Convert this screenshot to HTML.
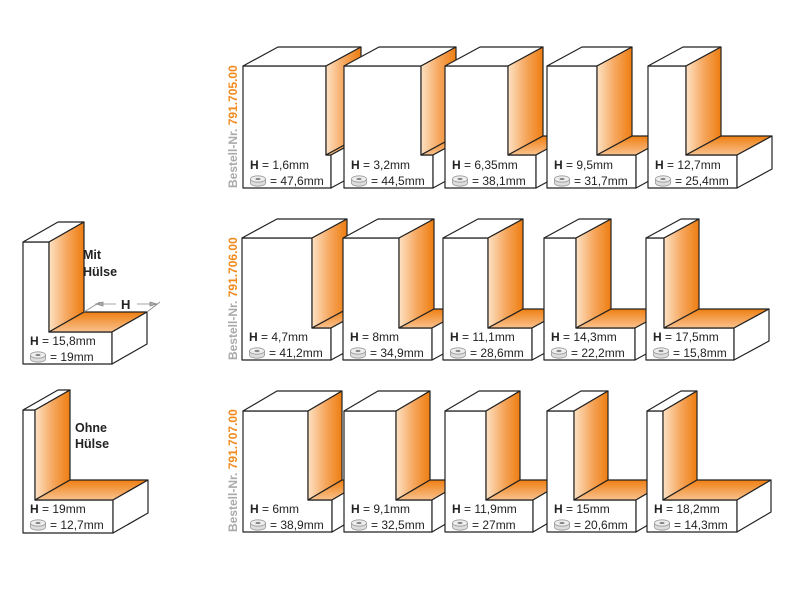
<!DOCTYPE html>
<html><head><meta charset="utf-8"><style>
html,body{margin:0;padding:0;background:#fff;}
svg{display:block;}
text{font-family:"Liberation Sans",sans-serif;font-size:12px;fill:#222;}
.f{fill:#fff;stroke:#222;stroke-width:1.2;stroke-linejoin:round;}
.v{fill:url(#gv);stroke:#222;stroke-width:1.2;stroke-linejoin:round;}
.fl{fill:url(#gf);stroke:#222;stroke-width:1.2;stroke-linejoin:round;}
.b{font-weight:bold;}
</style></head><body>
<svg width="800" height="600" viewBox="0 0 800 600" xmlns="http://www.w3.org/2000/svg">
<defs>
<linearGradient id="gv" x1="0" y1="0" x2="1" y2="0"><stop offset="0" stop-color="#fde2c4"/><stop offset="0.5" stop-color="#f6a860"/><stop offset="1" stop-color="#ee7d10"/></linearGradient>
<linearGradient id="gf" x1="0" y1="0" x2="0" y2="1"><stop offset="0" stop-color="#ef7f12"/><stop offset="1" stop-color="#f9c28e"/></linearGradient>
<g id="brg"><ellipse cx="0" cy="3" rx="7.5" ry="3.2" fill="#ddd" stroke="#999" stroke-width="0.8"/><rect x="-7.5" y="-1" width="15" height="4" fill="#ddd"/><line x1="-7.5" y1="-1" x2="-7.5" y2="3" stroke="#999" stroke-width="0.8"/><line x1="7.5" y1="-1" x2="7.5" y2="3" stroke="#999" stroke-width="0.8"/><ellipse cx="0" cy="-1" rx="7.5" ry="3.2" fill="#eee" stroke="#999" stroke-width="0.8"/><ellipse cx="0" cy="-1" rx="2.5" ry="1.1" fill="#888"/></g>
</defs>

<!-- Row 1 -->
<g>
<polygon class="f" points="243,66 326,66 326,155 331,155 331,188 243,188"/><polygon class="f" points="243,66 278,47 361,47 326,66"/><polygon class="v" points="326,66 361,47 361,136 326,155"/><polygon class="fl" points="326,155 361,136 366,136 331,155"/><polygon class="f" points="331,155 366,136 366,169 331,188"/>
<polygon class="f" points="344,66 421,66 421,155 433,155 433,188 344,188"/><polygon class="f" points="344,66 379,47 456,47 421,66"/><polygon class="v" points="421,66 456,47 456,136 421,155"/><polygon class="fl" points="421,155 456,136 468,136 433,155"/><polygon class="f" points="433,155 468,136 468,169 433,188"/>
<polygon class="f" points="445,66 508,66 508,155 536,155 536,188 445,188"/><polygon class="f" points="445,66 480,47 543,47 508,66"/><polygon class="v" points="508,66 543,47 543,136 508,155"/><polygon class="fl" points="508,155 543,136 571,136 536,155"/><polygon class="f" points="536,155 571,136 571,169 536,188"/>
<polygon class="f" points="547,66 597,66 597,155 636,155 636,188 547,188"/><polygon class="f" points="547,66 582,47 632,47 597,66"/><polygon class="v" points="597,66 632,47 632,136 597,155"/><polygon class="fl" points="597,155 632,136 671,136 636,155"/><polygon class="f" points="636,155 671,136 671,169 636,188"/>
<polygon class="f" points="648,66 686,66 686,155 737,155 737,188 648,188"/><polygon class="f" points="648,66 683,47 721,47 686,66"/><polygon class="v" points="686,66 721,47 721,136 686,155"/><polygon class="fl" points="686,155 721,136 772,136 737,155"/><polygon class="f" points="737,155 772,136 772,169 737,188"/>
</g>
<!-- Row 2 -->
<g>
<polygon class="f" points="242,238 312,238 312,328 331,328 331,360 242,360"/><polygon class="f" points="242,238 277,219 347,219 312,238"/><polygon class="v" points="312,238 347,219 347,309 312,328"/><polygon class="fl" points="312,328 347,309 366,309 331,328"/><polygon class="f" points="331,328 366,309 366,341 331,360"/>
<polygon class="f" points="343,238 399,238 399,328 432,328 432,360 343,360"/><polygon class="f" points="343,238 378,219 434,219 399,238"/><polygon class="v" points="399,238 434,219 434,309 399,328"/><polygon class="fl" points="399,328 434,309 467,309 432,328"/><polygon class="f" points="432,328 467,309 467,341 432,360"/>
<polygon class="f" points="443,238 488,238 488,328 532,328 532,360 443,360"/><polygon class="f" points="443,238 478,219 523,219 488,238"/><polygon class="v" points="488,238 523,219 523,309 488,328"/><polygon class="fl" points="488,328 523,309 567,309 532,328"/><polygon class="f" points="532,328 567,309 567,341 532,360"/>
<polygon class="f" points="544,238 576,238 576,328 635,328 635,360 544,360"/><polygon class="f" points="544,238 579,219 611,219 576,238"/><polygon class="v" points="576,238 611,219 611,309 576,328"/><polygon class="fl" points="576,328 611,309 670,309 635,328"/><polygon class="f" points="635,328 670,309 670,341 635,360"/>
<polygon class="f" points="646,238 664,238 664,328 734,328 734,360 646,360"/><polygon class="f" points="646,238 681,219 699,219 664,238"/><polygon class="v" points="664,238 699,219 699,309 664,328"/><polygon class="fl" points="664,328 699,309 769,309 734,328"/><polygon class="f" points="734,328 769,309 769,341 734,360"/>
</g>
<!-- Row 3 -->
<g>
<polygon class="f" points="243,411 308,411 308,500 332,500 332,532 243,532"/><polygon class="f" points="243,411 277,391 342,391 308,411"/><polygon class="v" points="308,411 342,391 342,480 308,500"/><polygon class="fl" points="308,500 342,480 366,480 332,500"/><polygon class="f" points="332,500 366,480 366,512 332,532"/>
<polygon class="f" points="344,411 396,411 396,500 432,500 432,532 344,532"/><polygon class="f" points="344,411 378,391 430,391 396,411"/><polygon class="v" points="396,411 430,391 430,480 396,500"/><polygon class="fl" points="396,500 430,480 466,480 432,500"/><polygon class="f" points="432,500 466,480 466,512 432,532"/>
<polygon class="f" points="445,411 486,411 486,500 533,500 533,532 445,532"/><polygon class="f" points="445,411 479,391 520,391 486,411"/><polygon class="v" points="486,411 520,391 520,480 486,500"/><polygon class="fl" points="486,500 520,480 567,480 533,500"/><polygon class="f" points="533,500 567,480 567,512 533,532"/>
<polygon class="f" points="547,411 574,411 574,500 636,500 636,532 547,532"/><polygon class="f" points="547,411 581,391 608,391 574,411"/><polygon class="v" points="574,411 608,391 608,480 574,500"/><polygon class="fl" points="574,500 608,480 670,480 636,500"/><polygon class="f" points="636,500 670,480 670,512 636,532"/>
<polygon class="f" points="647,411 663,411 663,500 737,500 737,532 647,532"/><polygon class="f" points="647,411 681,391 697,391 663,411"/><polygon class="v" points="663,411 697,391 697,480 663,500"/><polygon class="fl" points="663,500 697,480 771,480 737,500"/><polygon class="f" points="737,500 771,480 771,512 737,532"/>
</g>
<!-- Left: Mit Hülse -->
<polygon class="f" points="23,242 49,242 49,332 112,332 112,364 23,364"/><polygon class="f" points="23,242 58,222 84,222 49,242"/><polygon class="v" points="49,242 84,222 84,312 49,332"/><polygon class="fl" points="49,332 84,312 147,312 112,332"/><polygon class="f" points="112,332 147,312 147,344 112,364"/>
<!-- Left: Ohne Hülse -->
<polygon class="f" points="23,410 35,410 35,500 113,500 113,533 23,533"/><polygon class="f" points="23,410 58,390 70,390 35,410"/><polygon class="v" points="35,410 70,390 70,480 35,500"/><polygon class="fl" points="35,500 70,480 148,480 113,500"/><polygon class="f" points="113,500 148,480 148,513 113,533"/>

<text x="83" y="259" class="b" style="font-size:12.5px">Mit</text>
<text x="83" y="276" class="b" style="font-size:12.5px">Hülse</text>
<text x="75" y="432" class="b" style="font-size:12.5px">Ohne</text>
<text x="75" y="448" class="b" style="font-size:12.5px">Hülse</text>
<!-- dimension H -->
<g stroke="#888" stroke-width="0.8" fill="#aaa">
<line x1="84" y1="312" x2="100" y2="302"/><line x1="147" y1="312" x2="160" y2="302"/>
<line x1="96" y1="304" x2="116" y2="304"/><polygon points="96,304 103,302 103,306"/>
<line x1="137" y1="304" x2="157" y2="304"/><polygon points="157,304 150,302 150,306"/>
</g>
<text x="121" y="309" class="b" style="font-size:13px">H</text>

<!-- vertical labels -->
<text transform="translate(237,188) rotate(-90)" class="b" style="font-size:12px"><tspan fill="#aaa" style="fill:#aaa">Bestell-Nr. </tspan><tspan style="fill:#f08a1c">791.705.00</tspan></text>
<text transform="translate(237,360) rotate(-90)" class="b" style="font-size:12px"><tspan style="fill:#aaa">Bestell-Nr. </tspan><tspan style="fill:#f08a1c">791.706.00</tspan></text>
<text transform="translate(237,532) rotate(-90)" class="b" style="font-size:12px"><tspan style="fill:#aaa">Bestell-Nr. </tspan><tspan style="fill:#f08a1c">791.707.00</tspan></text>

<!-- labels row1 -->
<g>
<text x="250" y="169"><tspan class="b">H</tspan> = 1,6mm</text><use href="#brg" x="258" y="180"/><text x="270" y="185">= 47,6mm</text>
<text x="351" y="169"><tspan class="b">H</tspan> = 3,2mm</text><use href="#brg" x="359" y="180"/><text x="371" y="185">= 44,5mm</text>
<text x="452" y="169"><tspan class="b">H</tspan> = 6,35mm</text><use href="#brg" x="460" y="180"/><text x="472" y="185">= 38,1mm</text>
<text x="554" y="169"><tspan class="b">H</tspan> = 9,5mm</text><use href="#brg" x="562" y="180"/><text x="574" y="185">= 31,7mm</text>
<text x="655" y="169"><tspan class="b">H</tspan> = 12,7mm</text><use href="#brg" x="663" y="180"/><text x="675" y="185">= 25,4mm</text>
</g>
<g>
<text x="249" y="341"><tspan class="b">H</tspan> = 4,7mm</text><use href="#brg" x="257" y="352"/><text x="269" y="357">= 41,2mm</text>
<text x="350" y="341"><tspan class="b">H</tspan> = 8mm</text><use href="#brg" x="358" y="352"/><text x="370" y="357">= 34,9mm</text>
<text x="450" y="341"><tspan class="b">H</tspan> = 11,1mm</text><use href="#brg" x="458" y="352"/><text x="470" y="357">= 28,6mm</text>
<text x="551" y="341"><tspan class="b">H</tspan> = 14,3mm</text><use href="#brg" x="559" y="352"/><text x="571" y="357">= 22,2mm</text>
<text x="653" y="341"><tspan class="b">H</tspan> = 17,5mm</text><use href="#brg" x="661" y="352"/><text x="673" y="357">= 15,8mm</text>
</g>
<g>
<text x="250" y="513"><tspan class="b">H</tspan> = 6mm</text><use href="#brg" x="258" y="524"/><text x="270" y="529">= 38,9mm</text>
<text x="351" y="513"><tspan class="b">H</tspan> = 9,1mm</text><use href="#brg" x="359" y="524"/><text x="371" y="529">= 32,5mm</text>
<text x="452" y="513"><tspan class="b">H</tspan> = 11,9mm</text><use href="#brg" x="460" y="524"/><text x="472" y="529">= 27mm</text>
<text x="554" y="513"><tspan class="b">H</tspan> = 15mm</text><use href="#brg" x="562" y="524"/><text x="574" y="529">= 20,6mm</text>
<text x="654" y="513"><tspan class="b">H</tspan> = 18,2mm</text><use href="#brg" x="662" y="524"/><text x="674" y="529">= 14,3mm</text>
</g>
<text x="30" y="345"><tspan class="b">H</tspan> = 15,8mm</text><use href="#brg" x="38" y="356"/><text x="50" y="361">= 19mm</text>
<text x="30" y="513"><tspan class="b">H</tspan> = 19mm</text><use href="#brg" x="38" y="524"/><text x="50" y="529">= 12,7mm</text>
</svg>
</body></html>
